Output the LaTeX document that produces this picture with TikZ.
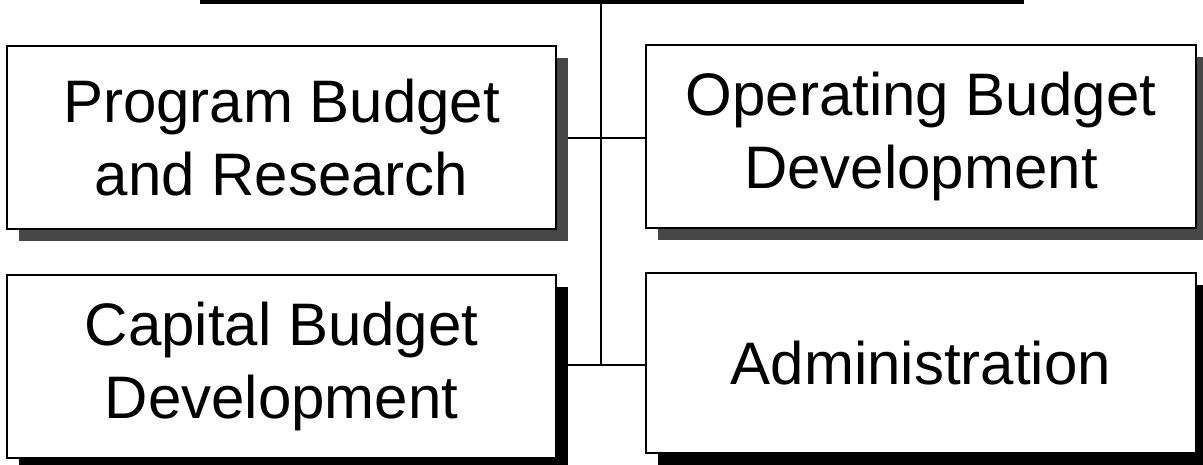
\documentclass[tikz,border=0pt]{standalone}
\usepackage{fontspec}
\setmainfont{Liberation Sans}
\usetikzlibrary{shadows,backgrounds}
\begin{document}
\begin{tikzpicture}[x=1pt,y=-1pt,
  orgbox/.style={draw=black, line width=1.6pt, fill=white, inner sep=0pt,
    align=center, font=\fontsize{60}{73}\selectfont},
  grayshadow/.style={drop shadow={shadow xshift=11.5pt, shadow yshift=-12pt, fill=black!72, opacity=1}},
  blackshadow/.style={drop shadow={shadow xshift=11.5pt, shadow yshift=-12pt, fill=black, opacity=1}},
  conn/.style={draw=black, line width=1.6pt}]
\useasboundingbox (0,0) rectangle (1203,465);
\node[fill=black, inner sep=0pt, minimum width=824pt, minimum height=4.5pt] (top) at (612,2) {};
\node[orgbox, grayshadow, minimum width=549pt, minimum height=183pt] (pbr) at (281.5,137.5) {Program Budget\\and Research};
\node[orgbox, grayshadow, minimum width=550pt, minimum height=183pt] (obd) at (921,136.5) {Operating Budget\\Development};
\node[orgbox, blackshadow, minimum width=549pt, minimum height=183pt] (cbd) at (281.5,366.5) {\raisebox{-3pt}{\parbox{549pt}{\centering Capital Budget\\Development}}};
\node[orgbox, blackshadow, minimum width=550pt, minimum height=180pt] (adm) at (921,363) {Administration};
\coordinate (j1) at (601,138);
\coordinate (j2) at (601,365);
\begin{pgfonlayer}{background}
\draw[conn] (top.south -| j1) -- (j2);
\draw[conn] (pbr.east |- j1) -- (obd.west |- j1);
\draw[conn] (cbd.east |- j2) -- (adm.west |- j2);
\end{pgfonlayer}
\end{tikzpicture}
\end{document}
